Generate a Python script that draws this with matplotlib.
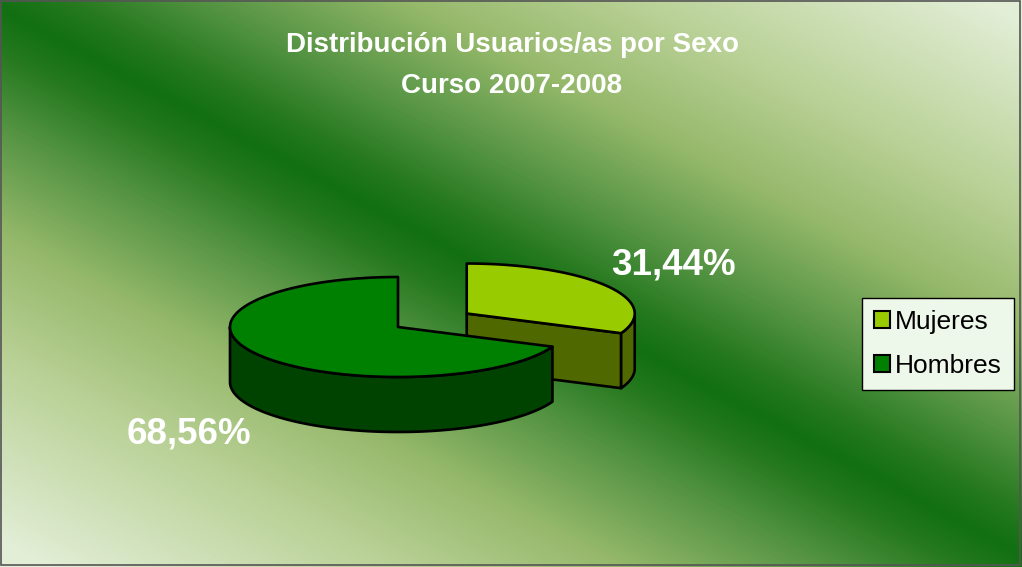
import numpy as np
import matplotlib
matplotlib.use("Agg")
import matplotlib.pyplot as plt
from matplotlib.patches import Polygon, Patch
from matplotlib.colors import LinearSegmentedColormap

# ---- data ----
categories = ["Mujeres", "Hombres"]
values = [31.44, 68.56]
value_labels = ["31,44%", "68,56%"]
title_lines = ["Distribución Usuarios/as por Sexo", "Curso 2007-2008"]

top_colors = ["#99CC00", "#008000"]
side_colors = ["#4F6800", "#004200"]
explode = [0.49, 0.0]

W, H = 1022, 567
fig = plt.figure(figsize=(W / 100, H / 100), dpi=100)
ax = fig.add_axes([0, 0, 1, 1])
ax.set_xlim(0, W)
ax.set_ylim(H, 0)
ax.axis("off")

# ---- background diagonal gradient (dark band along y = 0.535x + 8) ----
yy, xx = np.mgrid[0:H, 0:W]
d = np.abs(yy - (0.535 * xx + 8)) / np.hypot(0.535, 1.0)
dn = np.clip(d / 470.0, 0, 1)
bg_cmap = LinearSegmentedColormap.from_list(
    "bg", [(0.0, "#127012"), (0.08, "#26791F"), (0.22, "#559444"),
           (0.42, "#95B86A"), (0.65, "#B9D196"), (1.0, "#E2EED6")])
ax.imshow(dn, cmap=bg_cmap, vmin=0, vmax=1, extent=(0, W, H, 0),
          aspect="auto", zorder=0, interpolation="bilinear")

# ---- 3D pie ----
cx, cy = 398, 327
rx, ry = 168, 50
depth = 55
elw = 1.9

def rim(theta, ox, oy, dz=0):
    t = np.deg2rad(theta)
    return np.column_stack([ox + rx * np.sin(t), oy - ry * np.cos(t) + dz])

fr = np.array(values) / sum(values)
starts = np.concatenate([[0], np.cumsum(fr)[:-1]]) * 360
ends = np.cumsum(fr) * 360

for i in range(len(values)):
    a0, a1 = starts[i], ends[i]
    mid = np.deg2rad((a0 + a1) / 2)
    ox = cx + explode[i] * rx * np.sin(mid)
    oy = cy - explode[i] * ry * np.cos(mid)
    z = 2 + i * 3
    if 0 < a1 % 360 < 180:
        p_end = rim(a1, ox, oy)[0]
        quad = np.array([[ox, oy], p_end, p_end + [0, depth], [ox, oy + depth]])
        ax.add_patch(Polygon(quad, closed=True, fc=side_colors[i], ec="black",
                             lw=elw, zorder=z, joinstyle="round"))
    if 180 < a0 % 360 < 360:
        p_st = rim(a0, ox, oy)[0]
        quad = np.array([[ox, oy], p_st, p_st + [0, depth], [ox, oy + depth]])
        ax.add_patch(Polygon(quad, closed=True, fc=side_colors[i], ec="black",
                             lw=elw, zorder=z, joinstyle="round"))
    w0, w1 = max(a0, 90), min(a1, 270)
    if w1 > w0:
        th = np.linspace(w0, w1, 120)
        upper = rim(th, ox, oy)
        lower = rim(th[::-1], ox, oy, depth)
        ax.add_patch(Polygon(np.vstack([upper, lower]), closed=True,
                             fc=side_colors[i], ec="black", lw=elw, zorder=z + 1,
                             joinstyle="round"))
    th = np.linspace(a0, a1, 200)
    pts = np.vstack([[ox, oy], rim(th, ox, oy)])
    ax.add_patch(Polygon(pts, closed=True, fc=top_colors[i], ec="black",
                         lw=elw, zorder=z + 2, joinstyle="round"))

fam = ["Liberation Sans Narrow", "Liberation Sans", "DejaVu Sans"]

# value labels
ax.text(673, 265, value_labels[0], color="white", fontsize=26.5, fontweight="bold",
        family=fam, ha="center", va="center", zorder=20)
ax.text(189, 434, value_labels[1], color="white", fontsize=26.5, fontweight="bold",
        family=fam, ha="center", va="center", zorder=20)

# title
ax.text(512, 45, title_lines[0], color="white", fontsize=20, fontweight="bold",
        family=fam, ha="center", va="center", zorder=20)
ax.text(512, 86, title_lines[1], color="white", fontsize=20, fontweight="bold",
        family=fam, ha="center", va="center", zorder=20)

# legend
handles = [Patch(fc=top_colors[i], ec="black", lw=1.5, label=categories[i])
           for i in range(len(categories))]
leg = ax.legend(handles=handles, loc="upper left",
                bbox_to_anchor=(862 / W, 1 - 298 / H), bbox_transform=fig.transFigure,
                prop={"family": fam, "size": 19}, frameon=True, fancybox=False,
                edgecolor="black", facecolor="#EEF8EA", framealpha=1,
                handlelength=0.6, handleheight=0.6, handletextpad=0.2,
                labelspacing=0.75, borderpad=0.45, borderaxespad=0)
leg.get_frame().set_linewidth(1.0)
leg.set_zorder(30)

# outer border
ax.add_patch(plt.Rectangle((1, 1), W - 3, H - 3, fill=False, ec="#555555",
                           lw=1.2, zorder=40))

fig.savefig("out.png", dpi=100)
